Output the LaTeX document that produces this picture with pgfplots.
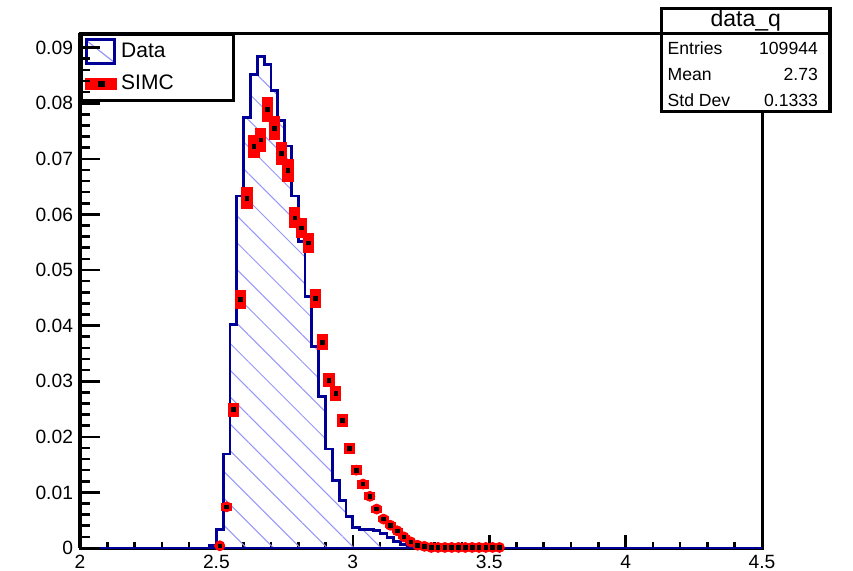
\documentclass[border=0pt]{standalone}
\usepackage{pgfplots}
\pgfplotsset{compat=1.18}
\usepackage{pgfplotstable}
\usepackage{fontspec}
\setmainfont{Liberation Sans}
\usetikzlibrary{patterns.meta}
\definecolor{datablue}{RGB}{0,0,150}
\definecolor{hatchblue}{RGB}{150,150,250}
\definecolor{simcred}{RGB}{255,0,0}

\pgfplotstableread{
x y
2.000 0
2.475 0.0004
2.500 0.0034
2.525 0.0169
2.550 0.0402
2.575 0.0633
2.600 0.0775
2.625 0.0852
2.650 0.0884
2.675 0.0869
2.700 0.0823
2.725 0.0769
2.750 0.0723
2.775 0.0633
2.800 0.0552
2.825 0.0452
2.850 0.0363
2.875 0.0272
2.900 0.0178
2.925 0.0122
2.950 0.0086
2.975 0.0056
3.000 0.0037
3.025 0.0033
3.050 0.0033
3.075 0.0031
3.100 0.0026
3.125 0.0019
3.150 0.0012
3.175 0.0007
3.200 0.0004
3.225 0.0002
3.250 0.0001
3.275 0.0001
3.300 0.0001
3.325 0
4.500 0
}\datatable

\pgfplotstableread{
x y e
2.5125 0.0004 0.00015
2.5375 0.0074 0.00066
2.5625 0.0249 0.00125
2.5875 0.0447 0.00170
2.6125 0.0629 0.00200
2.6375 0.0722 0.00212
2.6625 0.0734 0.00214
2.6875 0.0789 0.00220
2.7125 0.0755 0.00216
2.7375 0.0710 0.00208
2.7625 0.0679 0.00202
2.7875 0.0594 0.00186
2.8125 0.0576 0.00183
2.8375 0.0549 0.00179
2.8625 0.0449 0.00165
2.8875 0.0370 0.00147
2.9125 0.0302 0.00133
2.9375 0.0278 0.00127
2.9625 0.0230 0.00116
2.9875 0.0179 0.00102
3.0125 0.0140 0.00090
3.0375 0.0115 0.00082
3.0625 0.0093 0.00074
3.0875 0.0070 0.00064
3.1125 0.0052 0.00055
3.1375 0.0041 0.00049
3.1625 0.0031 0.00043
3.1875 0.0020 0.00034
3.2125 0.0011 0.00025
3.2375 0.0005 0.00017
3.2625 0.0003 0.00013
3.2875 0.0001 0.00008
3.3125 0.0001 0.00008
3.3375 0.0001 0.00008
3.3625 0.0001 0.00008
3.3875 0.0001 0.00008
3.4125 0.0001 0.00008
3.4375 0.0001 0.00008
3.4625 0.0001 0.00008
3.4875 0.0001 0.00008
3.5125 0.0001 0.00008
3.5375 0.0001 0.00008
}\simctable

\begin{document}
\begin{tikzpicture}
\useasboundingbox (-40pt,-11pt) rectangle (386.5pt,274pt);
\pgfplotsset{
  common/.style={
    at={(0pt,0pt)}, anchor=south west, scale only axis,
    width=341pt, height=257.5pt,
    xmin=2, xmax=4.5, ymin=0, ymax=0.09263,
    /pgf/number format/assume math mode=true,
    tick label style={font=\fontsize{9.6}{11}\selectfont, black},
    axis line style={line width=1.5pt, black},
    every tick/.style={black, line width=1.3pt},
    tick align=inside,
  }
}
\begin{axis}[common,
  xtick={2,2.5,3,3.5,4,4.5}, minor x tick num=4,
  ymajorticks=false, yminorticks=false,
  xtick pos=left,
  major tick length=6.5pt, minor tick length=3.2pt,
  legend style={at={(0,1)}, anchor=north west, draw=black, line width=1.4pt,
    fill=white, font=\fontsize{10.5}{12}\selectfont, inner xsep=2pt, inner ysep=2pt,
    row sep=3pt, cells={anchor=west}},
  legend cell align=left,
]
\addplot[const plot, draw=datablue, line width=1.4pt,
  pattern={Lines[angle=-45,distance=9.5pt,line width=0.5pt]}, pattern color=hatchblue,
  forget plot] table[x=x,y=y] {\datatable} \closedcycle;
\addplot[only marks, mark=*, mark size=2.5pt, simcred,
  mark options={draw=simcred, fill=simcred}, forget plot,
  error bars/.cd, y dir=both, y explicit,
  error bar style={line width=5.6pt, simcred}, error mark=none]
  table[x=x,y=y,y error=e] {\simctable};
\addplot[only marks, mark=square*, mark size=0.9pt, black, forget plot]
  table[x=x,y=y] {\simctable};
\addlegendimage{legend image code/.code={
    \draw[hatchblue, line width=0.6pt] (0pt,5.5pt) -- (14pt,-5.5pt);
    \draw[datablue, line width=1.4pt] (0pt,-6pt) rectangle (14pt,6pt);}}
\addlegendentry{\makebox[52pt][l]{Data}}
\addlegendimage{legend image code/.code={
    \fill[simcred] (0pt,-2.5pt) rectangle (14.5pt,2.5pt);
    \fill[black] (6.3pt,-0.9pt) rectangle (8.2pt,0.9pt);}}
\addlegendentry{\makebox[52pt][l]{SIMC}}
\end{axis}
\begin{axis}[common,
  hide x axis, axis y line*=left,
  ytick={0,0.01,0.02,0.03,0.04,0.05,0.06,0.07,0.08,0.09}, minor y tick num=4,
  scaled y ticks=false,
  yticklabel style={/pgf/number format/fixed, /pgf/number format/precision=2},
  major tick length=10pt, minor tick length=5pt,
]
\end{axis}
% stats box
\draw[line width=1.6pt, fill=white] (290.85pt,218.15pt) rectangle (375pt,269.85pt);
\draw[line width=1.6pt] (290.85pt,257.35pt) -- (375pt,257.35pt);
\node[anchor=base, inner sep=0pt, font=\fontsize{11.5}{13}\selectfont] at (332.9pt,260.6pt) {data\_q};
\node[anchor=base west, inner sep=0pt, font=\fontsize{8.8}{10}\selectfont] at (293.65pt,246.85pt) {Entries};
\node[anchor=base east, inner sep=0pt, font=\fontsize{8.8}{10}\selectfont] at (369.15pt,246.85pt) {109944};
\node[anchor=base west, inner sep=0pt, font=\fontsize{8.8}{10}\selectfont] at (293.65pt,233.65pt) {Mean};
\node[anchor=base east, inner sep=0pt, font=\fontsize{8.8}{10}\selectfont] at (369.15pt,233.65pt) {2.73};
\node[anchor=base west, inner sep=0pt, font=\fontsize{8.8}{10}\selectfont] at (293.65pt,220.65pt) {Std Dev};
\node[anchor=base east, inner sep=0pt, font=\fontsize{8.8}{10}\selectfont] at (369.15pt,220.65pt) {0.1333};
\end{tikzpicture}
\end{document}
